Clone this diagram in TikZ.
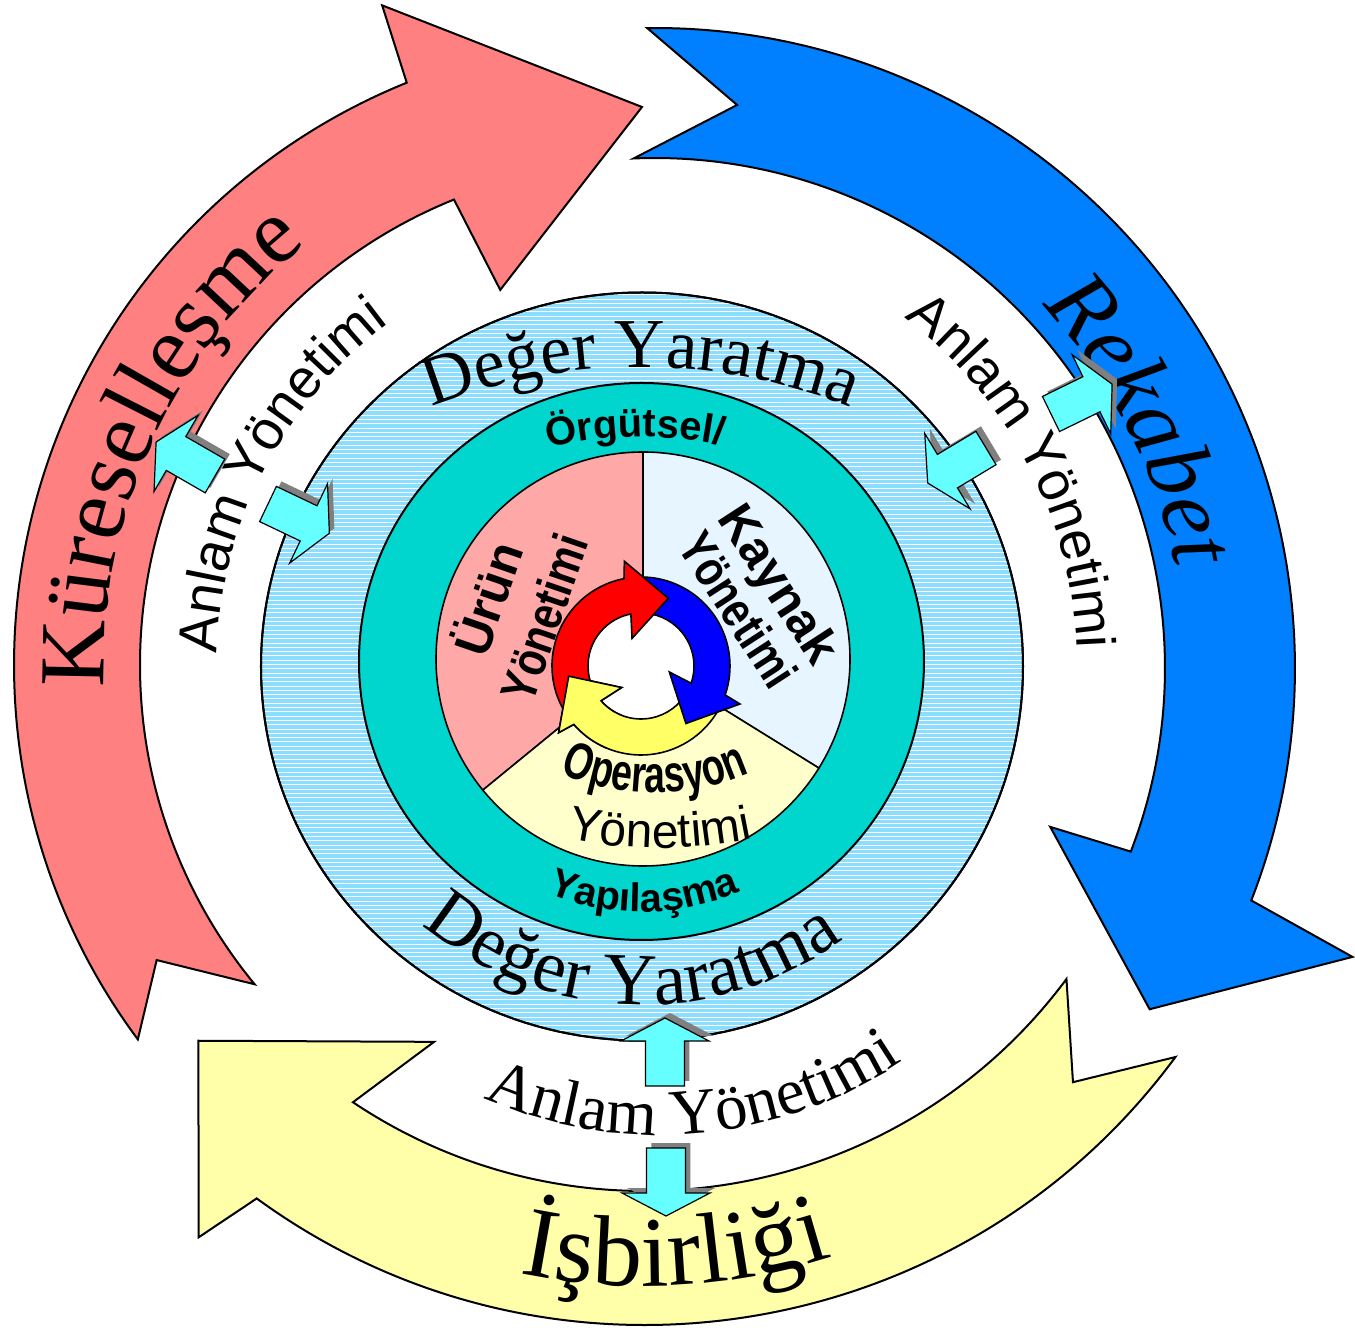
\documentclass[tikz,border=0pt]{standalone}
\usepackage{fontspec}
\setmainfont{Liberation Serif}
\setsansfont{Liberation Sans}
\newfontfamily\darsans[FakeStretch=0.82]{Liberation Sans}
\newfontfamily\cokdarsans[FakeStretch=0.72]{Liberation Sans}
\newfontfamily\genissans[LetterSpace=5]{Liberation Sans}
\usetikzlibrary{decorations.text}

\definecolor{pembeok}{HTML}{FF8080}
\definecolor{maviok}{HTML}{0080FF}
\definecolor{sariok}{HTML}{FFFFAA}
\definecolor{halka}{HTML}{8CDEFF}
\definecolor{turkuaz}{HTML}{00D6CE}
\definecolor{dilimpembe}{HTML}{FFA8A8}
\definecolor{dilimmavi}{HTML}{E6F5FF}
\definecolor{dilimsari}{HTML}{FFFFCC}
\definecolor{okcamgobegi}{HTML}{66FFFF}
\definecolor{kucukkirmizi}{HTML}{FF0000}
\definecolor{kucukmavi}{HTML}{0000FF}
\definecolor{kucuksari}{HTML}{FFFF66}

\newcommand{\degeryazi}{\fontsize{35}{40}\selectfont}
\newcommand{\orgutyazi}{\sffamily\bfseries\fontsize{20}{24}\selectfont}
\newcommand{\anlamyazi}{\sffamily\fontsize{27.5}{30}\selectfont}
\newcommand{\anlamaltyazi}{\fontsize{32.5}{36}\selectfont}
\newcommand{\okyazi}{\fontsize{46.5}{52}\selectfont}
\newcommand{\icyazi}{\sffamily\bfseries\fontsize{25}{29.5}\selectfont}

\tikzset{
  kenar/.style={draw=black, line width=1pt},
  egriyazi/.style={decorate, decoration={text along path, text align=center, text={#1}}},
  pics/anlamok/.style={code={
    \fill[gray, shift={(5,5)}, rotate=#1] (0,-19.5) -- (45,-19.5) -- (45,-44) -- (68,0) -- (45,44) -- (45,19.5) -- (0,19.5) -- cycle;
    \draw[fill=okcamgobegi, line width=0.6pt, rotate=#1] (0,-19.5) -- (45,-19.5) -- (45,-44) -- (68,0) -- (45,44) -- (45,19.5) -- (0,19.5) -- cycle;
  }}
}

\begin{document}
\begin{tikzpicture}[x=0.5pt, y=0.5pt]

\fill[white] (-642,-667) rectangle (713,665);
\useasboundingbox (-642,-667) rectangle (713,665);

\draw[kenar, fill=pembeok] (216.6:628) arc[start angle=216.6, end angle=112, radius=628] -- (111.5:709) -- (90:558) -- (110.7:401) -- (112:502) arc[start angle=112, end angle=219.5, radius=502] -- (211.3:568) -- cycle;
\draw[kenar, fill=maviok, shift={(13,-3)}] (90.7:640) arc[start angle=90.7, end angle=-21.3, radius=640] -- (-22.5:755) -- (-34.6:601) -- (-21.9:426) -- (-21.1:510) arc[start angle=-21.1, end angle=92.4, radius=510] -- (81.7:569) -- cycle;
\draw[kenar, fill=sariok, shift={(3,-1)}] (-36.4:659) arc[start angle=-36.4, end angle=-126.1, radius=659] -- (232:725) -- (220:583) -- (240.7:431) -- (236.2:525) arc[start angle=236.2, end angle=323.4, radius=525] -- (315.8:597) -- cycle;

\path[egriyazi={|\okyazi|Küreselleşme}] (200:538) arc[start angle=200, end angle=111, radius=538];
\path[egriyazi={|\okyazi\itshape|Rekabet}, shift={(13,-3)}] (60:530) arc[start angle=60, end angle=-6, radius=530];
\path[egriyazi={|\fontsize{50}{54}\selectfont|İşbirliği}, shift={(3,-1)}] (250:620) arc[start angle=250, end angle=296, radius=620];

\draw[kenar, fill=halka] (0,-1.5) ellipse[x radius=381, y radius=374];
\begin{scope}
\clip (0,-1.5) ellipse[x radius=380, y radius=373];
\foreach \y in {-378,-373.7,...,378}
  \draw[white, line width=0.5pt] (-385,\y) -- (385,\y);
\end{scope}
\draw[line width=1pt] (0,-1.5) ellipse[x radius=381, y radius=374];

\path[egriyazi={|\degeryazi|Değer Yaratma}, shift={(-1,-265)}] (115:563) arc[start angle=115, end angle=65, radius=563];
\path[egriyazi={|\fontsize{37}{40}\selectfont|Değer Yaratma}] (223:340) arc[start angle=223, end angle=313, radius=340];

\draw[kenar, fill=turkuaz] (-0.5,3.5) ellipse[x radius=282.5, y radius=278.5];
\path[egriyazi={|\orgutyazi|Örgütsel/}, shift={(0,-172)}] (111:400) arc[start angle=111, end angle=71, radius=400];
\path[egriyazi={|\orgutyazi|Yapılaşma}, shift={(0,2)}] (225:249) arc[start angle=225, end angle=316, radius=249];

\begin{scope}[shift={(1,6)}, line width=0.8pt]
\draw[fill=dilimpembe] (0,0) -- (90:207) arc[start angle=90, end angle=219.3, radius=207] -- cycle;
\draw[fill=dilimmavi] (0,0) -- (-31.8:207) arc[start angle=-31.8, end angle=90, radius=207] -- cycle;
\draw[fill=dilimsari] (0,0) -- (219.3:207) arc[start angle=219.3, end angle=328.2, radius=207] -- cycle;
\end{scope}

\begin{scope}[shift={(-1,-1)}]
\fill[white] (0,0) circle[radius=53];
\foreach \renk/\ba in {kucuksari/-139, kucukmavi/-19, kucukkirmizi/101}
  \draw[kenar, line width=0.8pt, fill=\renk] (\ba+111:89) arc[start angle=\ba+111, end angle=\ba, radius=89] -- (\ba-2:106) -- (\ba-33:73) -- (\ba+7:29) -- (\ba:53) arc[start angle=\ba, end angle=\ba+111, radius=53] -- cycle;
\clip (0,0) -- (172:140) arc[start angle=172, end angle=248, radius=140] -- cycle;
\draw[kenar, line width=0.8pt, fill=kucuksari] (-28:89) arc[start angle=-28, end angle=-139, radius=89] -- (-141:106) -- (-172:73) -- (-132:29) -- (-139:53) arc[start angle=-139, end angle=-28, radius=53] -- cycle;
\end{scope}

\node[font=\icyazi, rotate=71, align=center] (urun) at (-129,57.5) {Ürün\\{\darsans Yönetimi}};
\node[font=\icyazi, rotate=-57, align=center] (kaynak) at (117.5,68.5) {Kaynak\\[-5pt]{\darsans Yönetimi}};
\path[egriyazi={|\cokdarsans\bfseries\fontsize{26}{28}\selectfont|Operasyon}, shift={(13,105)}] (240:233) arc[start angle=240, end angle=300, radius=233];
\path[egriyazi={|\genissans\fontsize{24}{26}\selectfont|Yönetimi}, shift={(18,272)}] (255:455) arc[start angle=255, end angle=285, radius=455];

\path[egriyazi={|\anlamyazi|Anlam Yönetimi}] (190:425) arc[start angle=190, end angle=115, radius=425];
\path[egriyazi={|\anlamyazi|Anlam Yönetimi}] (60:435) arc[start angle=60, end angle=-5, radius=435];
\path[egriyazi={|\anlamaltyazi|Anlam Yönetimi}, shift={(18,-35)}] (240:435) arc[start angle=240, end angle=310, radius=435];

\pic (okA) at (-427,189) {anlamok=150};
\pic (okB) at (-374,161) {anlamok=-25.5};
\pic (okC) at (409,251) {anlamok=26};
\pic (okD) at (344,217) {anlamok=211};
\pic (okE) at (23,-421) {anlamok=90};
\pic (okF) at (24,-483) {anlamok=-90};

\end{tikzpicture}
\end{document}
